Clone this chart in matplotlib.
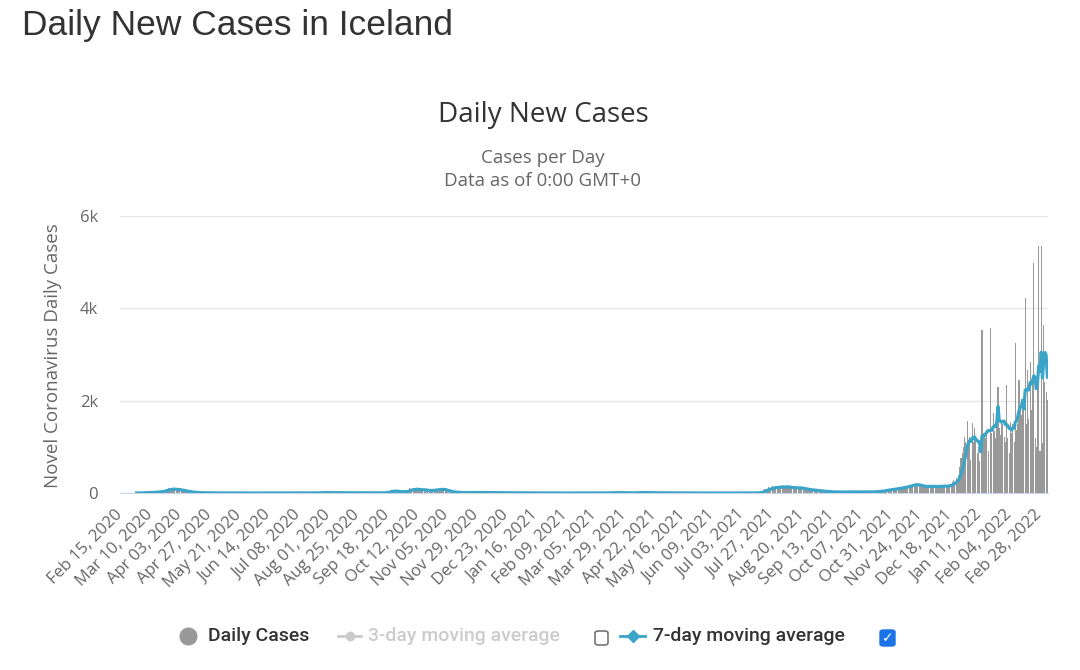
import matplotlib
matplotlib.use("Agg")
import matplotlib.pyplot as plt
from matplotlib.lines import Line2D
from matplotlib.patches import FancyBboxPatch
import numpy as np
import pandas as pd

nan = float("nan")
start_date = "2020-02-15"

# daily new cases, one list per month (first case on Feb 28, 2020)
feb_2020 = [nan] * 13 + [1, 0]
mar_2020 = [1, 3, 6, 11, 8, 6, 10, 9, 6, 9, 12, 20, 14, 21, 20, 33, 30, 36, 29, 40,
            64, 44, 95, 78, 100, 70, 89, 105, 63, 67, 60]
apr_2020 = [99, 58, 75, 45, 35, 52, 27, 32, 25, 25, 18, 13, 10, 14, 12, 9, 7, 3, 10, 5,
            3, 3, 4, 2, 1, 2, 7, 3, 1, 0]
may_2020 = [1, 0, 0, 2, 0, 1, 0, 0, 0, 1, 0, 0, 0, 0, 1, 0, 0, 1, 0, 0,
            0, 0, 0, 1, 0, 0, 0, 0, 1, 0, 0]
jun_2020 = [0, 1, 0, 0, 0, 0, 1, 0, 0, 0, 0, 0, 1, 0, 2, 1, 0, 0, 3, 0,
            1, 0, 0, 2, 0, 1, 0, 0, 1, 0]
jul_2020 = [1, 0, 2, 0, 1, 1, 0, 0, 2, 1, 0, 0, 1, 3, 0, 1, 0, 0, 2, 1,
            1, 4, 3, 5, 9, 8, 6, 11, 10, 9, 7]
aug_2020 = [8, 5, 3, 6, 7, 9, 8, 5, 4, 11, 6, 5, 7, 4, 9, 8, 5, 3, 2, 4,
            5, 3, 2, 1, 3, 2, 4, 2, 1, 0, 1]
sep_2020 = [1, 2, 0, 1, 1, 3, 2, 1, 4, 2, 3, 2, 4, 3, 6, 9, 13, 19, 21, 38,
            75, 57, 30, 33, 30, 17, 23, 32, 33, 39]
oct_2020 = [24, 17, 37, 32, 59, 99, 94, 87, 91, 60, 54, 80, 84, 72, 76, 64, 57, 59, 52, 64,
            43, 57, 45, 59, 58, 67, 86, 72, 89, 94, 59]
nov_2020 = [70, 79, 75, 55, 46, 27, 23, 20, 25, 15, 19, 11, 13, 10, 9, 7, 14, 9, 8, 10,
            11, 7, 12, 9, 8, 13, 11, 8, 14, 9]
dec_2020 = [12, 10, 8, 11, 7, 9, 6, 13, 10, 8, 5, 9, 7, 11, 6, 4, 8, 5, 7, 10,
            6, 3, 5, 4, 2, 6, 3, 4, 2, 5, 3]
jan_2021 = [4, 2, 5, 3, 1, 6, 2, 3, 4, 1, 2, 3, 0, 2, 1, 3, 1, 0, 2, 1,
            0, 1, 2, 0, 1, 0, 1, 2, 0, 1, 0]
feb_2021 = [0, 1, 0, 0, 1, 0, 0, 2, 0, 1, 0, 0, 0, 1, 0, 0, 1, 0, 0, 0,
            2, 0, 0, 1, 0, 0, 1, 0]
mar_2021 = [0, 1, 0, 0, 2, 1, 0, 0, 1, 0, 0, 2, 1, 3, 0, 1, 4, 7, 5, 9,
            12, 6, 8, 10, 7, 5, 4, 3, 2, 2, 1]
apr_2021 = [2, 4, 6, 3, 5, 8, 10, 7, 9, 12, 6, 10, 8, 11, 9, 5, 4, 6, 7, 3,
            8, 5, 4, 6, 3, 2, 4, 3, 5, 2]
may_2021 = [3, 1, 4, 2, 1, 0, 2, 5, 3, 1, 0, 1, 2, 0, 1, 1, 0, 2, 0, 1,
            0, 1, 0, 0, 2, 0, 1, 0, 0, 1, 0]
jun_2021 = [0, 1, 0, 0, 0, 1, 0, 0, 0, 1, 0, 0, 0, 0, 1, 0, 0, 0, 0, 1,
            0, 0, 0, 0, 0, 1, 0, 0, 0, 0]
jul_2021 = [0, 1, 0, 0, 1, 0, 0, 1, 2, 0, 1, 3, 2, 4, 5, 8, 10, 22, 38, 56,
            78, 95, 82, 123, 71, 88, 154, 130, 109, 148, 126]
aug_2021 = [103, 123, 130, 153, 145, 132, 118, 109, 136, 140, 99, 95, 128, 120, 110, 89, 136, 99, 101, 105,
            85, 62, 82, 77, 71, 72, 67, 48, 52, 60, 55]
sep_2021 = [45, 50, 38, 40, 48, 35, 32, 36, 25, 28, 30, 22, 19, 24, 17, 20, 26, 18, 23, 15,
            21, 25, 19, 22, 18, 27, 24, 30, 21, 19]
oct_2021 = [26, 23, 28, 24, 25, 19, 22, 21, 28, 17, 23, 20, 26, 25, 22, 18, 30, 27, 31, 26,
            35, 40, 48, 52, 60, 55, 62, 70, 66, 75, 80]
nov_2021 = [72, 88, 95, 85, 100, 110, 98, 120, 115, 130, 125, 140, 150, 135, 160, 170, 175, 200, 190, 180,
            170, 160, 150, 165, 140, 130, 155, 145, 120, 160]
dec_2021 = [150, 135, 140, 125, 155, 145, 130, 150, 165, 140, 120, 160, 150, 170, 135, 145, 180, 160, 200, 230,
            290, 220, 330, 300, 390, 560, 760, 870, 1000, 1220, 1100]
jan_2022 = [1550, 1000, 1220, 720, 1520, 1100, 1410, 1150, 870, 1000, 700, 0, 3530, 1300, 1250, 1200, 1280, 900, 0, 3580,
            1300, 1730, 1350, 1200, 1650, 2300, 1400, 1250, 1580, 1500, 1220]
feb_2022 = [1100, 2340, 1200, 860, 1545, 1300, 1500, 1100, 3245, 1370, 1500, 2450, 1800, 1700, 2020, 1900, 4230, 1500, 2670, 1600,
            2845, 1800, 2380, 4980, 1200, 1000, 2600, 5340]
mar_2022 = [900, 5340, 1080, 3640, 2400, 2195, 2015]

cases = (feb_2020 + mar_2020 + apr_2020 + may_2020 + jun_2020 + jul_2020 + aug_2020
         + sep_2020 + oct_2020 + nov_2020 + dec_2020 + jan_2021 + feb_2021 + mar_2021
         + apr_2021 + may_2021 + jun_2021 + jul_2021 + aug_2021 + sep_2021 + oct_2021
         + nov_2021 + dec_2021 + jan_2022 + feb_2022 + mar_2022)

y_ticks = [0, 2000, 4000, 6000]
y_tick_labels = ["0", "2k", "4k", "6k"]

W, H = 1080, 670
GREY_TXT = "#666666"
DARK_TXT = "#333333"
BAR_COL = "#999999"
LINE_COL = "#3aa5c8"


def fx(x):
    return x / W


def fy(y):
    return 1 - y / H


def main():
    dates = pd.date_range(start_date, periods=len(cases))
    tick_idx = np.arange(0, len(cases), 24)
    tick_labels = [dates[i].strftime("%b %d, %Y") for i in tick_idx]

    daily = pd.Series(cases, dtype=float)
    avg7 = daily.rolling(7, min_periods=1).mean()

    plt.rcParams["font.family"] = ["Open Sans", "DejaVu Sans"]
    fig = plt.figure(figsize=(W / 100, H / 100), dpi=100)
    ax = fig.add_axes([fx(120), fy(493), fx(928), 277 / H])

    x = np.arange(len(cases))
    ax.bar(x, daily, width=0.85, color=BAR_COL, linewidth=0, zorder=2)
    ax.plot(x, avg7, color=LINE_COL, lw=2.3, zorder=3, solid_joinstyle="round")

    ax.set_xlim(-0.5, len(cases) - 0.5)
    ax.set_ylim(0, 6000)
    ax.set_yticks(y_ticks)
    ax.set_yticklabels(y_tick_labels)
    ax.grid(axis="y", color="#e6e6e6", lw=1)
    ax.set_axisbelow(True)
    for s in ["top", "right", "left"]:
        ax.spines[s].set_visible(False)
    ax.spines["bottom"].set_color("#ccd6eb")
    ax.spines["bottom"].set_zorder(1)

    ax.set_xticks(tick_idx)
    ax.set_xticklabels(tick_labels, rotation=45, ha="right", va="center",
                       rotation_mode="anchor")
    ax.tick_params(axis="x", length=0, pad=14, labelsize=12, colors=GREY_TXT)
    ax.tick_params(axis="y", length=0, pad=16, labelsize=12, colors=GREY_TXT)

    fig.text(fx(53), fy(356), "Novel Coronavirus Daily Cases", rotation=90,
             ha="center", va="center", fontsize=13.5, color=GREY_TXT)

    # titles
    fig.text(fx(22), fy(25), "Daily New Cases in Iceland", fontsize=25.5,
             family="Liberation Sans", color=DARK_TXT, va="center")
    fig.text(fx(543), fy(115), "Daily New Cases", fontsize=20, color=DARK_TXT,
             ha="center", va="center")
    fig.text(fx(543), fy(158), "Cases per Day", fontsize=13.5, color=GREY_TXT,
             ha="center", va="center")
    fig.text(fx(543), fy(181), "Data as of 0:00 GMT+0", fontsize=13.5, color=GREY_TXT,
             ha="center", va="center")

    # legend
    ly = fy(636)
    fig.add_artist(Line2D([fx(188)], [ly], marker="o", markersize=12,
                          color=BAR_COL, linestyle="none"))
    fig.text(fx(208), ly, "Daily Cases", fontsize=14, family="Roboto",
             weight="medium", color=DARK_TXT, va="center")

    fig.add_artist(Line2D([fx(338), fx(361)], [ly, ly], color="#cccccc", lw=2))
    fig.add_artist(Line2D([fx(349.5)], [ly], marker="o", markersize=6,
                          color="#cccccc", linestyle="none"))
    fig.text(fx(368), ly, "3-day moving average", fontsize=14, family="Roboto",
             weight="medium", color="#cccccc", va="center")
    fig.add_artist(FancyBboxPatch((fx(595), fy(645)), fx(13), 14 / H,
                                  boxstyle="round,pad=0,rounding_size=0.003",
                                  transform=fig.transFigure, facecolor="white",
                                  edgecolor="#767676", lw=1.2))

    fig.add_artist(Line2D([fx(620), fx(645)], [ly, ly], color=LINE_COL, lw=2))
    fig.add_artist(Line2D([fx(632.5)], [ly], marker="D", markersize=6,
                          color=LINE_COL, linestyle="none"))
    fig.text(fx(653), ly, "7-day moving average", fontsize=14, family="Roboto",
             weight="medium", color=DARK_TXT, va="center")
    fig.add_artist(FancyBboxPatch((fx(880), fy(646)), fx(15), 16 / H,
                                  boxstyle="round,pad=0,rounding_size=0.003",
                                  transform=fig.transFigure, facecolor="#1a73e8",
                                  edgecolor="#1a73e8", lw=1))
    fig.text(fx(887.5), fy(638), "\u2713", fontsize=10, family="DejaVu Sans",
             color="white", ha="center", va="center", weight="bold")

    fig.savefig("out.png", dpi=100)


if __name__ == "__main__":
    main()
